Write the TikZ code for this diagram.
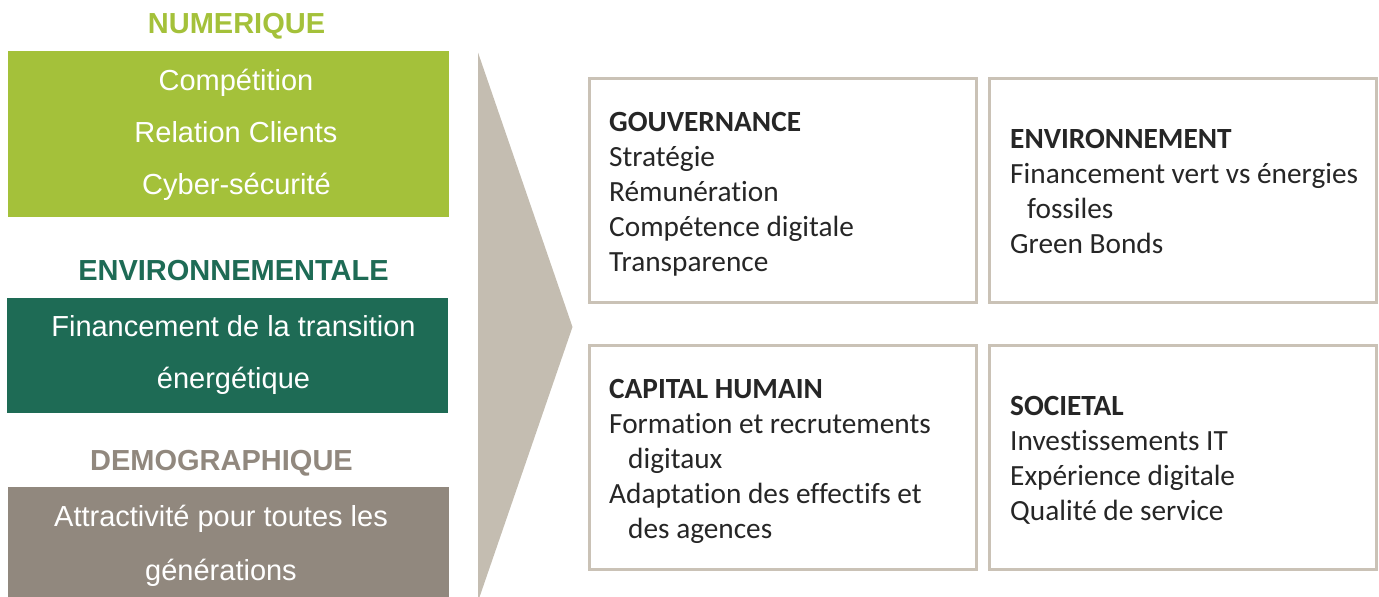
\documentclass[tikz,border=0pt]{standalone}
\usepackage{fontspec}
\newfontfamily\arialfont{Liberation Sans}
\newfontfamily\calfont[Ligatures=NoCommon]{Carlito}
\definecolor{numgreen}{HTML}{A4C13A}
\definecolor{envgreen}{HTML}{1E6B55}
\definecolor{demgray}{HTML}{91887E}
\definecolor{chevron}{HTML}{C4BDB1}
\definecolor{frame}{HTML}{CAC2B6}
\definecolor{ink}{HTML}{262626}
\begin{document}
\begin{tikzpicture}[x=1pt,y=-1pt,
  band/.style={inner sep=0pt,outer sep=0pt,minimum width=441pt,draw=none},
  theme/.style={font=\arialfont\bfseries\fontsize{29}{34}\selectfont,inner sep=0pt,anchor=base},
  bandtext/.style={font=\arialfont\fontsize{29}{34}\selectfont,text=white,inner sep=0pt,anchor=base},
  panel/.style={draw=frame,line width=3pt,fill=white,inner sep=0pt,minimum width=387pt,minimum height=224pt},
  head/.style={font=\calfont\bfseries\fontsize{29.3}{35}\selectfont,text=ink,inner sep=0pt,anchor=base west},
  item/.style={font=\calfont\fontsize{29.3}{35}\selectfont,text=ink,inner sep=0pt,anchor=base west}]
\useasboundingbox (0,0) rectangle (1379,597);

% left column: three themes with coloured bands
\node[theme,text=numgreen] (tnum) at (236.5,33) {NUMERIQUE};
\node[band,fill=numgreen,minimum height=165.5pt] (bnum) at (228.5,133.75) {};
\node[bandtext] (n1) at (236,90.7) {Compétition};
\node[bandtext] (n2) at (236,142.7) {Relation Clients};
\node[bandtext] (n3) at (236.5,194.3) {Cyber-sécurité};

\node[theme,text=envgreen] (tenv) at (233.5,280) {ENVIRONNEMENTALE};
\node[band,fill=envgreen,minimum height=114.7pt] (benv) at (227.5,355.3) {};
\node[bandtext] (e1) at (233.5,336.7) {Financement de la transition};
\node[bandtext] (e2) at (233.5,388.3) {énergétique};

\node[theme,text=demgray] (tdem) at (221.5,470.7) {DEMOGRAPHIQUE};
\node[band,fill=demgray,minimum height=110pt] (bdem) at (228.5,542) {};
\node[bandtext] (d1) at (221,526.7) {Attractivité pour toutes les};
\node[bandtext] (d2) at (221,580) {générations};

% chevron
\fill[chevron] (478,52.5) -- (572.5,327) -- (478,601.5) -- cycle;

% right grid of four panels
\node[panel] (pgov) at (783,190.5) {};
\node[panel] (penv) at (1183,190.5) {};
\node[panel] (pcap) at (783,457.5) {};
\node[panel] (psoc) at (1183,457.5) {};

\node[head] (g0) at (609,131) {GOUVERNANCE};
\node[item] (g1) at (609,166) {Stratégie};
\node[item] (g2) at (609,201) {Rémunération};
\node[item] (g3) at (609,236) {Compétence digitale};
\node[item] (g4) at (609,271) {Transparence};

\node[head] (v0) at (1010,148) {ENVIRONNEMENT};
\node[item] (v1) at (1010,183) {Financement vert vs énergies};
\node[item] (v2) at (1027,218) {fossiles};
\node[item] (v3) at (1010,253) {Green Bonds};

\node[head] (c0) at (609,398.5) {CAPITAL HUMAIN};
\node[item] (c1) at (609,433.5) {Formation et recrutements};
\node[item] (c2) at (628,468.5) {digitaux};
\node[item] (c3) at (609,503.5) {Adaptation des effectifs et};
\node[item] (c4) at (628,538.5) {des agences};

\node[head] (s0) at (1010,415) {SOCIETAL};
\node[item] (s1) at (1010,450) {Investissements IT};
\node[item] (s2) at (1010,485) {Expérience digitale};
\node[item] (s3) at (1010,520) {Qualité de service};
\end{tikzpicture}
\end{document}
